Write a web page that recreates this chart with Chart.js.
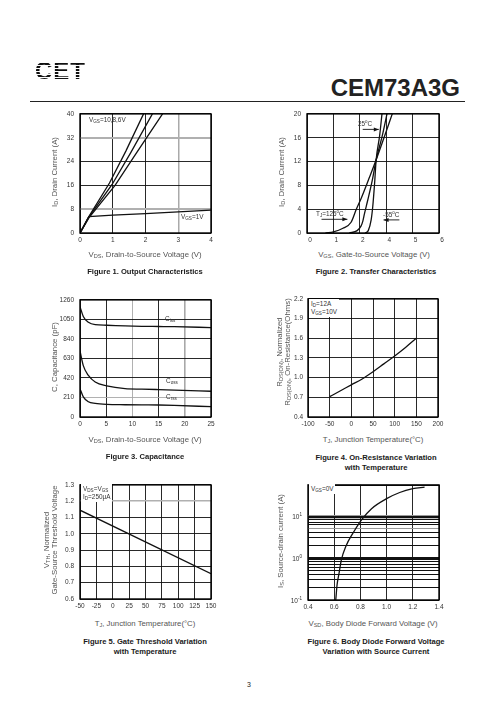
<!DOCTYPE html>
<html><head><meta charset="utf-8">
<script src="https://cdn.jsdelivr.net/npm/chart.js@4.4.0/dist/chart.umd.min.js"></script>
<style>
body{margin:0;width:496px;height:723px;background:#fff;position:relative;overflow:hidden;font-family:"Liberation Sans",Arial,sans-serif;}
canvas{position:absolute;}
.a{position:absolute;white-space:nowrap;}
.xt{font-size:7.8px;color:#555;transform:translate(-50%,-50%);}
.yt{font-size:7.8px;color:#555;transform:translate(-50%,-50%) rotate(-90deg);}
.cap{font-size:7.6px;font-weight:bold;color:#1a1a1a;transform:translate(-50%,-50%);text-align:center;line-height:9.5px;}
.n{font-size:6.4px;color:#333;line-height:8px;}
.n sub,.xt sub,.yt sub{font-size:72%;vertical-align:-1px;line-height:0;}
.box{background:#fff;padding:1px 2px;}
.logo{left:35px;top:60px;font-size:24px;font-weight:900;letter-spacing:1px;color:transparent;
 background:repeating-linear-gradient(to bottom,#111 0 1.8px,transparent 1.8px 3px);-webkit-background-clip:text;background-clip:text;transform:scaleX(1.0);transform-origin:left top;line-height:22px;}
.title{right:36px;top:76px;font-size:24px;font-weight:bold;color:#222;line-height:24px;}
.rule{left:30px;top:101px;width:435px;height:1px;background:#222;}
.yl{font-size:6.5px;color:#333;transform:translate(-100%,-50%);}
.yl sup{font-size:70%;vertical-align:3px;line-height:0;}
</style></head>
<body>
<div class="a logo">CET</div>
<div class="a title">CEM73A3G</div>
<div class="a rule"></div>

<canvas id="c1"></canvas><canvas id="c2"></canvas><canvas id="c3"></canvas>
<canvas id="c4"></canvas><canvas id="c5"></canvas><canvas id="c6"></canvas>

<!-- chart 1 texts -->
<div class="a n" style="left:89px;top:116px;">V<sub>GS</sub>=10,8,6V</div>
<div class="a n" style="left:181px;top:213px;">V<sub>GS</sub>=1V</div>
<div class="a yt" style="left:54px;top:172px;">I<sub>D</sub>, Drain Current (A)</div>
<div class="a xt" style="left:145px;top:254px;">V<sub>DS</sub>, Drain-to-Source Voltage (V)</div>
<div class="a cap" style="left:145px;top:272px;">Figure 1. Output Characteristics</div>

<!-- chart 2 texts -->
<div class="a yt" style="left:281px;top:172px;">I<sub>D</sub>, Drain Current (A)</div>
<div class="a xt" style="left:374px;top:254px;">V<sub>GS</sub>, Gate-to-Source Voltage (V)</div>
<div class="a cap" style="left:376px;top:272px;">Figure 2. Transfer Characteristics</div>
<div class="a n" style="left:358px;top:118px;">25<sup style="font-size:70%">o</sup>C</div>
<div class="a n" style="left:316px;top:208px;">T<sub>J</sub>=125<sup style="font-size:70%">o</sup>C</div>
<div class="a n" style="left:383px;top:209px;">-55<sup style="font-size:70%">o</sup>C</div>

<!-- chart 3 texts -->
<div class="a n" style="left:165px;top:315px;">C<sub>iss</sub></div>
<div class="a n" style="left:166px;top:377px;">C<sub>oss</sub></div>
<div class="a n" style="left:166px;top:393px;">C<sub>rss</sub></div>
<div class="a yt" style="left:54px;top:357px;">C, Capacitance (pF)</div>
<div class="a xt" style="left:145px;top:439px;">V<sub>DS</sub>, Drain-to-Source Voltage (V)</div>
<div class="a cap" style="left:145px;top:457px;">Figure 3. Capacitance</div>

<!-- chart 4 texts -->
<div class="a n box" style="left:309px;top:299px;">I<sub>D</sub>=12A<br>V<sub>GS</sub>=10V</div>
<div class="a yt" style="left:279px;top:352px;">R<sub>DS(ON)</sub>, Normalized</div>
<div class="a yt" style="left:287px;top:352px;">R<sub>DS(ON)</sub>, On-Resistance(Ohms)</div>
<div class="a xt" style="left:373px;top:439px;">T<sub>J</sub>, Junction Temperature(°C)</div>
<div class="a cap" style="left:376px;top:462px;">Figure 4. On-Resistance Variation<br>with Temperature</div>

<!-- chart 5 texts -->
<div class="a n box" style="left:81px;top:484px;">V<sub>DS</sub>=V<sub>GS</sub><br>I<sub>D</sub>=250μA</div>
<div class="a yt" style="left:46px;top:540px;">V<sub>TH</sub>, Normalized</div>
<div class="a yt" style="left:54px;top:540px;">Gate-Source Threshold Voltage</div>
<div class="a xt" style="left:145px;top:623px;">T<sub>J</sub>, Junction Temperature(°C)</div>
<div class="a cap" style="left:145px;top:646px;">Figure 5. Gate Threshold Variation<br>with Temperature</div>

<!-- chart 6 texts -->
<div class="a n box" style="left:309px;top:484px;">V<sub>GS</sub>=0V</div>
<div class="a yt" style="left:280px;top:541px;">I<sub>S</sub>, Source-drain current (A)</div>
<div class="a xt" style="left:373px;top:623px;">V<sub>SD</sub>, Body Diode Forward Voltage (V)</div>
<div class="a cap" style="left:376px;top:646px;">Figure 6. Body Diode Forward Voltage<br>Variation with Source Current</div>

<div class="a" style="left:247px;top:681px;font-size:7px;color:#222;">3</div>

<script>
// ---------- DATA ----------
// Figure 1: Output characteristics (VDS V, ID A)
const f1Vgs10 = [[0,0],[0.27,5.5],[0.9,16.8],[1.4,27.5],[1.94,40]];
const f1Vgs8  = [[0,0],[0.27,5.3],[0.98,16.3],[1.55,27],[2.21,40]];
const f1Vgs6  = [[0,0],[0.27,5.1],[1.07,16],[1.7,26.5],[2.52,40]];
const f1Vgs1  = [[0,0],[0.27,5.5],[1,6.0],[2,6.5],[3,7.1],[4,7.7]];
const f1XTicks = [0,1,2,3,4];
const f1YTicks = [0,8,16,24,32,40];

// Figure 2: Transfer characteristics (x in grid divisions, ID A)
const f2T125 = [[0.7,0],[1.0,0.2],[1.36,0.8],[1.67,1.8],[1.86,3.9],[2.05,5.8],[2.37,9.4],[2.62,12.3],[2.94,16.3],[3.23,20]];
const f2T25  = [[1.6,0],[1.9,0.4],[2.05,1.2],[2.11,1.9],[2.18,3.3],[2.30,5.5],[2.47,8.8],[2.62,12.3],[2.85,16.3],[3.03,20]];
const f2Tm55 = [[2.2,0],[2.32,0.4],[2.43,2.2],[2.49,4.4],[2.56,8.3],[2.62,12.3],[2.75,16.3],[2.84,20]];
const f2XTicks = [0,1,2,3,4,5];
const f2XLabels = ['0','1','2','4','5','6'];
const f2YTicks = [0,4,8,12,16,20];
const f2Arrows = [ [[2.11,17.4],[2.72,17.4]], [[0.55,2.3],[1.53,2.3]], [[3.5,2.2],[2.9,2.2]] ];

// Figure 3: Capacitance (VDS V, pF)
const f3Vds  = [0,0.63,1.6,2.9,5.1,8.6,11.8,15,18,25];
const f3Ciss = [1188,1082,1019,993,987,980,976,974,972,962];
const f3Coss = [712,553,447,376,334,305,300,295,290,277];
const f3Crss = [305,217,164,147,136,132,130,129,125,111];
const f3XTicks = [0,5,10,15,20,25];
const f3YTicks = [0,210,420,630,840,1050,1260];

// Figure 4: On-resistance vs temperature
const f4T = [-50,-25,0,25,50,75,100,125,150];
const f4R = [0.71,0.80,0.89,0.98,1.09,1.21,1.33,1.46,1.60];
const f4XTicks = [-100,-50,0,50,100,150,200];
const f4YTicks = [0.4,0.7,1.0,1.3,1.6,1.9,2.2];

// Figure 5: Gate threshold vs temperature
const f5T = [-50,150];
const f5V = [1.145,0.755];
const f5XTicks = [-50,-25,0,25,50,75,100,125,150];
const f5YTicks = [0.6,0.7,0.8,0.9,1.0,1.1,1.2,1.3];

// Figure 6: Body diode forward voltage (VSD V, IS A)
const f6Vsd = [0.612,0.622,0.637,0.655,0.69,0.745,0.81,0.885,1.0,1.1,1.2,1.29];
const f6Is  = [0.1,0.23,0.43,0.9,1.9,3.9,8,14.5,25,35,43,47];
const f6XTicks = [0.4,0.6,0.8,1.0,1.2,1.4];
const f6YTicks = [0.1,0.2,0.3,0.4,0.5,0.6,0.7,0.8,0.9,1,2,3,4,5,6,7,8,9,10,50];
const f6YLabels = {'0.1':'10<sup>-1</sup>','1':'10<sup>0</sup>','10':'10<sup>1</sup>'};

// ---------- helpers ----------
Chart.defaults.font.family = '"Liberation Sans", Arial, sans-serif';
Chart.defaults.color = '#333';

const framePlugin = {
  id:'frame',
  afterDatasetsDraw(chart){
    const {ctx, chartArea:a} = chart;
    ctx.save(); ctx.strokeStyle='#000'; ctx.lineWidth=1.4;
    ctx.strokeRect(a.left, a.top, a.right-a.left, a.bottom-a.top); ctx.restore();
  }
};
const arrowPlugin = {
  id:'arrows',
  afterDatasetsDraw(chart, args, opts){
    if(!opts || !opts.list) return;
    const {ctx} = chart, sx = chart.scales.x, sy = chart.scales.y;
    ctx.save(); ctx.strokeStyle='#111'; ctx.fillStyle='#111'; ctx.lineWidth=0.9;
    opts.list.forEach(([p0,p1])=>{
      const x0=sx.getPixelForValue(p0[0]), y0=sy.getPixelForValue(p0[1]);
      const x1=sx.getPixelForValue(p1[0]), y1=sy.getPixelForValue(p1[1]);
      ctx.beginPath(); ctx.moveTo(x0,y0); ctx.lineTo(x1,y1); ctx.stroke();
      const d = x1>x0?1:-1;
      ctx.beginPath(); ctx.moveTo(x1,y1); ctx.lineTo(x1-5*d,y1-2); ctx.lineTo(x1-5*d,y1+2); ctx.closePath(); ctx.fill();
    });
    ctx.restore();
  }
};

function pairs(xs, ys){ return xs.map((x,i)=>({x, y:ys[i]})); }
function pts(arr){ return arr.map(p=>({x:p[0], y:p[1]})); }
function line(data, smooth){ return {data, showLine:true, borderColor:'#111', borderWidth:1.3, pointRadius:0, tension:0,
  cubicInterpolationMode: smooth ? 'monotone' : 'default', fill:false}; }

function axis(type, min, max, ticks, opts){
  opts = opts || {};
  return {
    type, min, max,
    afterBuildTicks: s => { s.ticks = ticks.map(v=>({value:v})); },
    ticks:{ autoSkip:false, maxRotation:0, font:{size:6.5}, color:'#333', padding: opts.pad||3,
            labelOffset: opts.labelOffset||0,
            callback: opts.cb || (v => String(v)) },
    grid:{ drawTicks:false, color: opts.gridColor || '#111', lineWidth: opts.gridWidth || 0.9 },
    border:{ display:false }
  };
}

function mk(id, box, xs, ys, datasets, arrows){
  const c = document.getElementById(id);
  const L=40, T=8, R=16, B=16;
  c.width = box.w + L + R; c.height = box.h + T + B;
  c.style.left = (box.l - L)+'px'; c.style.top = (box.t - T)+'px';
  xs.afterFit = s => { s.height = B; };
  ys.afterFit = s => { s.width = L; };
  return new Chart(c, {
    type:'scatter', data:{datasets},
    options:{ responsive:false, animation:false, events:[],
      layout:{padding:{top:T, right:R, left:0, bottom:0}},
      plugins:{ legend:{display:false}, tooltip:{enabled:false}, arrows:{list:arrows||null} },
      scales:{x:xs, y:ys} },
    plugins:[framePlugin, arrowPlugin]
  });
}

// Figure 1
mk('c1', {l:80,t:112,w:131,h:121},
  axis('linear',0,4,f1XTicks,{gridColor:c=>c.tick&&c.tick.value===3?'#aaa':'#111', gridWidth:c=>c.tick&&c.tick.value===3?1.5:0.9}),
  axis('linear',0,40,f1YTicks,{pad:6, gridColor:c=>c.tick&&(c.tick.value===8||c.tick.value===32)?'#b0b0b0':'#111', gridWidth:c=>c.tick&&(c.tick.value===8||c.tick.value===32)?2:0.9}),
  [line(pts(f1Vgs10)), line(pts(f1Vgs8)), line(pts(f1Vgs6)), line(pts(f1Vgs1))]);

// Figure 2
mk('c2', {l:307,t:112,w:132,h:121},
  axis('linear',0,5,f2XTicks,{labelOffset:3, cb:(v,i)=>f2XLabels[i]}),
  axis('linear',0,20,f2YTicks,{pad:6}),
  [line(pts(f2T125),true), line(pts(f2T25),true), line(pts(f2Tm55),true)], f2Arrows);

// Figure 3
mk('c3', {l:80,t:298,w:131,h:119},
  axis('linear',0,25,f3XTicks,{gridColor:c=>c.tick&&(c.tick.value===10||c.tick.value===20)?'#a8a8a8':'#111', gridWidth:c=>c.tick&&c.tick.value===20?1.6:0.9}),
  axis('linear',0,1260,f3YTicks,{pad:6, gridColor:c=>c.tick&&c.tick.value===210?'#a8a8a8':'#111'}),
  [line(pairs(f3Vds,f3Ciss),true), line(pairs(f3Vds,f3Coss),true), line(pairs(f3Vds,f3Crss),true)]);

// Figure 4
mk('c4', {l:308,t:298,w:130,h:119},
  axis('linear',-100,200,f4XTicks),
  axis('linear',0.4,2.2,f4YTicks,{pad:5, cb:v=>v.toFixed(1)}),
  [line(pairs(f4T,f4R),true)]);

// Figure 5
mk('c5', {l:80,t:483,w:131,h:116},
  axis('linear',-50,150,f5XTicks),
  axis('linear',0.6,1.3,f5YTicks,{pad:6, cb:v=>v.toFixed(1), gridColor:c=>c.tick&&Math.abs(c.tick.value-1.2)<1e-6?'#b0b0b0':'#111', gridWidth:c=>c.tick&&Math.abs(c.tick.value-1.2)<1e-6?1.6:0.9}),
  [line(pairs(f5T,f5V))]);

// Figure 6
const ch6 = mk('c6', {l:308,t:483,w:131,h:117},
  axis('linear',0.4,1.4,f6XTicks,{cb:v=>v.toFixed(1)}),
  axis('logarithmic',0.1,53,f6YTicks,{pad:6, cb:()=>'',
     gridColor:c=>c.tick&&(c.tick.value===5||c.tick.value===10)?'#999':'#111',
     gridWidth:c=>c.tick&&(c.tick.value===1||c.tick.value===9)?2.2:1}),
  [line(pairs(f6Vsd,f6Is),true)]);

// log-axis labels with superscripts, placed through the chart's own y scale
(function(){
  const c = document.getElementById('c6');
  const left = parseFloat(c.style.left), top = parseFloat(c.style.top);
  const sy = ch6.scales.y, ax = ch6.chartArea.left;
  Object.keys(f6YLabels).forEach(k=>{
    const d = document.createElement('div');
    d.className='a yl';
    d.style.left = (left + ax - 6) + 'px';
    d.style.top = (top + sy.getPixelForValue(parseFloat(k))) + 'px';
    d.innerHTML = f6YLabels[k];
    document.body.appendChild(d);
  });
})();
</script>
</body></html>
